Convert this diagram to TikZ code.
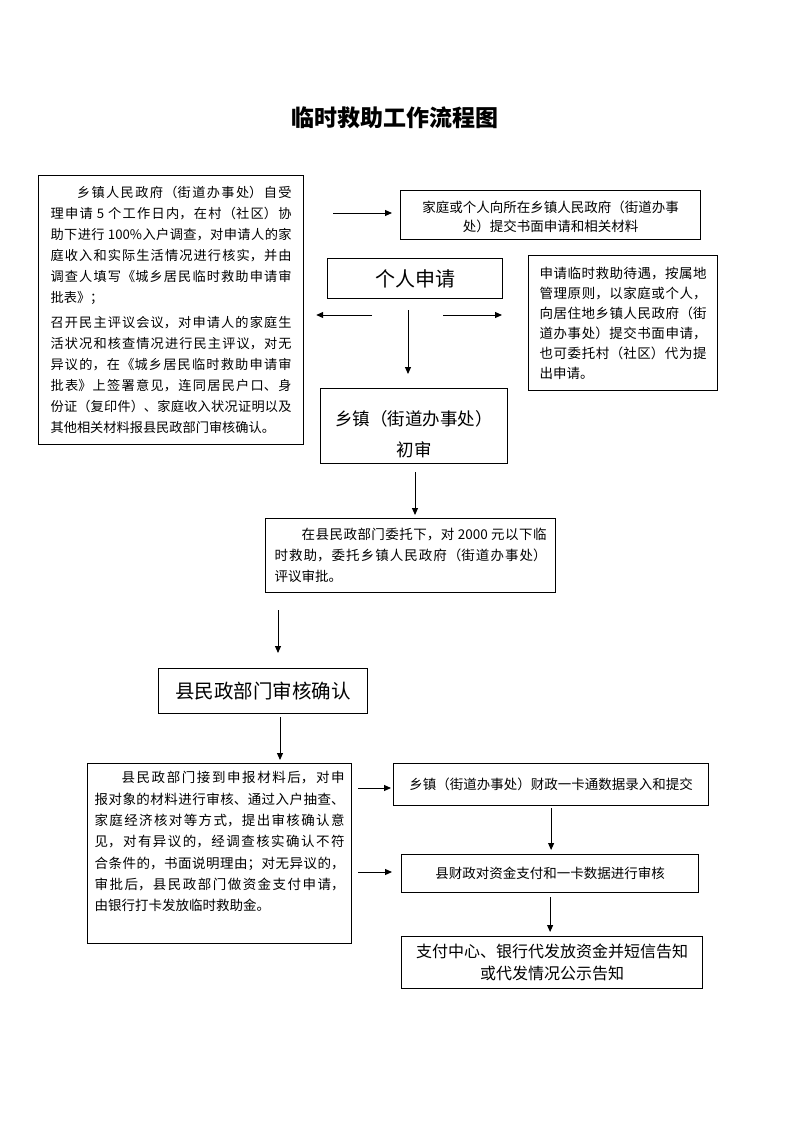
\documentclass[tikz,border=0pt]{standalone}
\usepackage{fontspec}
\setmainfont{Noto Sans CJK SC}
\usetikzlibrary{arrows.meta}
\XeTeXlinebreaklocale "zh"
\XeTeXlinebreakskip=0pt plus 2pt

\begin{document}
\begin{tikzpicture}[
    x=1pt, y=-1pt,
    box/.style={draw, line width=1.2pt, anchor=north west, inner sep=0pt, align=center},
    para/.style={draw, line width=1.2pt, anchor=north west, inner ysep=0pt, inner xsep=#1, align=justify},
    para/.default=10pt,
    arr/.style={-{Triangle[length=7pt, width=6pt]}, line width=1pt}
]

    % Page
    \fill[white] (0,0) rectangle (793,1122);
    \useasboundingbox (0,0) rectangle (793,1122);

    % Title
    \node[font=\fontsize{23}{23}\selectfont\bfseries] (title) at (395,118) {临时救助工作流程图};

    % Boxes
    \node[para=12pt, text width=241pt, minimum height=269pt, font=\fontsize{13.2}{21}\selectfont] (vote) at (38,175) {%
        \hspace*{2em}乡镇人民政府（街道办事处）自受\linebreak
        理申请 5 个工作日内，在村（社区）协\linebreak
        助下进行 100\%入户调查，对申请人的家\linebreak
        庭收入和实际生活情况进行核实，并由\linebreak
        调查人填写《城乡居民临时救助申请审\linebreak
        批表》；\\[4pt]
        召开民主评议会议，对申请人的家庭生\linebreak
        活状况和核查情况进行民主评议，对无\linebreak
        异议的，在《城乡居民临时救助申请审\linebreak
        批表》上签署意见，连同居民户口、身\linebreak
        份证（复印件）、家庭收入状况证明以及\linebreak
        其他相关材料报县民政部门审核确认。};
    \node[box, minimum width=300pt, minimum height=49pt, font=\fontsize{13.5}{19}\selectfont] (submit) at (400,190)
        {\rule{0pt}{15pt}家庭或个人向所在乡镇人民政府（街道办事\\处）提交书面申请和相关材料};
    \node[box, minimum width=175pt, minimum height=40pt, font=\fontsize{20}{24}\selectfont] (apply) at (327,258) {个人申请};
    \node[para=11pt, text width=167pt, minimum height=135pt, font=\fontsize{13.5}{20}\selectfont] (rule) at (528,255) {%
        申请临时救助待遇，按属地\linebreak
        管理原则，以家庭或个人，\linebreak
        向居住地乡镇人民政府（街\linebreak
        道办事处）提交书面申请，\linebreak
        也可委托村（社区）代为提\linebreak
        出申请。};
    \node[box, minimum width=187pt, minimum height=75pt, font=\fontsize{17.5}{33}\selectfont] (town) at (320,388)
        {\rule{0pt}{31pt}乡镇（街道办事处）\\[-2pt]初审};
    \node[para=9pt, text width=272pt, minimum height=74pt, font=\fontsize{13.5}{21}\selectfont] (entrust) at (265,518) {%
        \hspace*{2em}在县民政部门委托下，对 2000 元以下临\linebreak
        时救助，委托乡镇人民政府（街道办事处）\linebreak
        评议审批。};
    \node[box, minimum width=209pt, minimum height=45pt, font=\fontsize{19.5}{24}\selectfont] (county) at (158,668) {县民政部门审核确认};
    \node[para=7pt, text width=250pt, minimum height=180pt, font=\fontsize{13.5}{21.3}\selectfont] (review) at (87,763) {%
        \hspace*{2em}县民政部门接到申报材料后，对申\linebreak
        报对象的材料进行审核、通过入户抽查、\linebreak
        家庭经济核对等方式，提出审核确认意\linebreak
        见，对有异议的，经调查核实确认不符\linebreak
        合条件的，书面说明理由；对无异议的，\linebreak
        审批后，县民政部门做资金支付申请，\linebreak
        由银行打卡发放临时救助金。\rule[-25pt]{0pt}{1pt}};
    \node[box, minimum width=315pt, minimum height=42pt, font=\fontsize{13.5}{20}\selectfont] (entry) at (393,763)
        {乡镇（街道办事处）财政一卡通数据录入和提交};
    \node[box, minimum width=297pt, minimum height=38pt, font=\fontsize{13.5}{20}\selectfont] (check) at (401,854)
        {县财政对资金支付和一卡数据进行审核};
    \node[box, minimum width=301pt, minimum height=52pt, font=\fontsize{16}{22}\selectfont] (pay) at (401,936)
        {支付中心、银行代发放资金并短信告知\\或代发情况公示告知};

    % Arrow starts
    \coordinate (r1) at (333,213);
    \coordinate (l1) at (372,315);
    \coordinate (r2) at (443,315);
    \coordinate (d1) at (408,310);
    \coordinate (d2) at (415,472);
    \coordinate (d3) at (278,610);
    \coordinate (d4) at (280,717);
    \coordinate (r3) at (358,788);
    \coordinate (r4) at (358,872);

    % Arrows
    \draw[arr, shorten >=8pt] (r1) -- (r1 -| submit.west);
    \draw[arr, shorten >=12pt] (l1) -- (l1 -| vote.east);
    \draw[arr, shorten >=26pt] (r2) -- (r2 -| rule.west);
    \draw[arr, shorten >=14pt] (d1) -- (d1 |- town.north);
    \draw[arr, shorten >=3pt] (d2) -- (d2 |- entrust.north);
    \draw[arr, shorten >=15pt] (d3) -- (d3 |- county.north);
    \draw[arr, shorten >=3pt] (d4) -- (d4 |- review.north);
    \draw[arr, shorten >=2pt] (r3) -- (r3 -| entry.west);
    \draw[arr, shorten >=9pt] (r4) -- (r4 -| check.west);
    \draw[arr, shorten <=2pt, shorten >=4pt] (entry.south) -- (entry.south |- check.north);
    \draw[arr, shorten <=4pt, shorten >=4pt] (check.south) -- (check.south |- pay.north);

\end{tikzpicture}
\end{document}
